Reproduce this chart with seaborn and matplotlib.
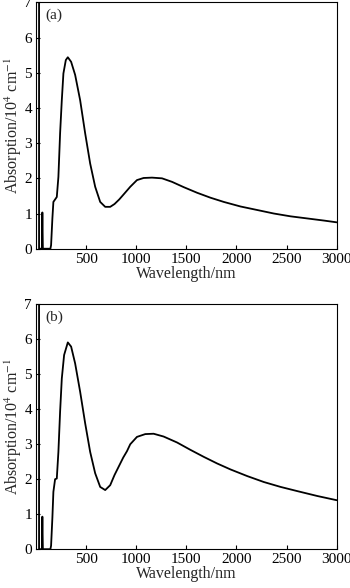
import numpy as np
import pandas as pd
import matplotlib
matplotlib.use("Agg")
import matplotlib.pyplot as plt
import seaborn as sns

# espectro (a)
wl_a = [30, 30, 58, 63, 68, 143, 150, 163, 173, 190, 207, 223, 240, 257, 273, 297, 317, 350,
        390, 440, 490, 540, 590, 640, 690, 740, 783, 830, 873, 940, 1007, 1073, 1157, 1257,
        1357, 1473, 1607, 1740, 1873, 2040, 2207, 2373, 2540, 2707, 2873, 3000]
abs_a = [7.6, 0.0, 0.0, 1.03, 0.0, 0.0, 0.1, 0.86, 1.33, 1.40, 1.47, 2.04, 3.28, 4.22, 4.98,
         5.36, 5.44, 5.31, 4.94, 4.22, 3.28, 2.42, 1.76, 1.33, 1.19, 1.19, 1.27, 1.40, 1.54,
         1.76, 1.95, 2.01, 2.02, 2.00, 1.90, 1.75, 1.59, 1.45, 1.33, 1.20, 1.10, 1.00, 0.92,
         0.86, 0.80, 0.75]

# espectro (b)
wl_b = [30, 30, 58, 63, 68, 143, 150, 163, 173, 190, 207, 223, 240, 257, 280, 317, 350, 390,
        440, 490, 540, 590, 640, 690, 740, 783, 823, 870, 907, 940, 1007, 1090, 1173, 1273,
        1407, 1540, 1673, 1807, 1940, 2107, 2273, 2440, 2607, 2807, 3000]
abs_b = [7.6, 0.0, 0.0, 0.93, 0.0, 0.0, 0.1, 0.9, 1.64, 2.00, 2.02, 2.78, 3.93, 4.88, 5.55,
         5.91, 5.79, 5.31, 4.50, 3.60, 2.78, 2.17, 1.78, 1.69, 1.83, 2.12, 2.35, 2.62, 2.80,
         3.00, 3.21, 3.29, 3.30, 3.22, 3.05, 2.84, 2.64, 2.45, 2.28, 2.09, 1.92, 1.78, 1.66,
         1.52, 1.40]

x_ticks = [500, 1000, 1500, 2000, 2500, 3000]
y_ticks = [0, 1, 2, 3, 4, 5, 6, 7]
panels = ["(a)", "(b)"]

sns.set_style("ticks")
plt.rcParams['font.family'] = ['Liberation Serif', 'DejaVu Serif']
plt.rcParams['mathtext.fontset'] = 'stix'

fig = plt.figure(figsize=(3.5, 5.88), dpi=100)
ax_a = fig.add_axes([0.103, 0.577, 0.859, 0.419])
ax_b = fig.add_axes([0.103, 0.066, 0.859, 0.4165])

for ax, wl, ab, lab in [(ax_a, wl_a, abs_a, panels[0]), (ax_b, wl_b, abs_b, panels[1])]:
    df = pd.DataFrame({'wl': wl, 'abs': ab})
    sns.lineplot(data=df, x='wl', y='abs', sort=False, estimator=None,
                 color='black', lw=1.3, ax=ax)
    ax.set_xlim(0, 3000)
    ax.set_ylim(0, 7)
    ax.set_xticks(x_ticks)
    ax.set_yticks(y_ticks)
    ax.tick_params(direction='in', length=3, width=0.8, labelsize=11, colors='black', pad=3)
    for s in ax.spines.values():
        s.set_linewidth(0.8)
        s.set_color('black')
    ax.set_xlabel('Wavelength/nm', fontsize=11.5, labelpad=0)
    ax.set_ylabel(r'Absorption/10$^4$ cm$^{-1}$', fontsize=11.5, labelpad=0)
    ax.text(0.03, 0.975, lab, transform=ax.transAxes, fontsize=11, va='top', ha='left')

fig.savefig('out.png', dpi=100)
